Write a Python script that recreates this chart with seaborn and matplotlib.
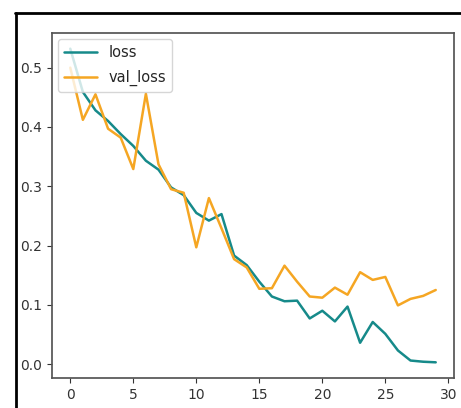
#!/usr/bin/env python3
"""Training curve: loss and val_loss per epoch."""

import matplotlib.pyplot as plt
import matplotlib.lines as mlines
import pandas as pd
import seaborn as sns

epochs = list(range(30))
loss = [0.532, 0.459, 0.428, 0.410, 0.388, 0.368, 0.343, 0.328, 0.298, 0.285,
        0.255, 0.242, 0.253, 0.183, 0.167, 0.139, 0.114, 0.106, 0.107, 0.077,
        0.090, 0.072, 0.097, 0.036, 0.071, 0.051, 0.023, 0.006, 0.004, 0.003]
val_loss = [0.500, 0.412, 0.455, 0.397, 0.382, 0.329, 0.456, 0.337, 0.295, 0.289,
            0.197, 0.280, 0.229, 0.177, 0.163, 0.127, 0.128, 0.166, 0.139, 0.114,
            0.112, 0.129, 0.117, 0.155, 0.142, 0.147, 0.099, 0.110, 0.115, 0.125]

df = pd.DataFrame({"epoch": epochs, "loss": loss, "val_loss": val_loss})
long = df.melt(id_vars="epoch", var_name="series", value_name="value")

sns.set_theme(style="ticks")
plt.rcParams["font.family"] = ["DejaVu Sans"]

fig = plt.figure(figsize=(4.61, 4.08), dpi=100)
ax = fig.add_axes([52 / 461, 1 - 378 / 408, 402 / 461, 345 / 408])

sns.lineplot(
    data=long,
    x="epoch",
    y="value",
    hue="series",
    palette={"loss": "#168a8a", "val_loss": "#f5a623"},
    linewidth=1.8,
    ax=ax,
)
ax.set_xlabel("")
ax.set_ylabel("")
ax.set_xticks([0, 5, 10, 15, 20, 25, 30])
ax.set_yticks([0.0, 0.1, 0.2, 0.3, 0.4, 0.5])
ax.tick_params(labelsize=10, colors="#333333", length=3.5, width=0.8)
for side in ax.spines.values():
    side.set_visible(True)
    side.set_color("#555555")
ax.legend(loc="upper left", fontsize=10.5, borderaxespad=0.4,
          labelspacing=0.7, handlelength=2.3)

# screenshot frame on top and left
fig.add_artist(mlines.Line2D([15 / 461, 1], [1 - 13 / 408, 1 - 13 / 408],
                             color="black", linewidth=2))
fig.add_artist(mlines.Line2D([16 / 461, 16 / 461], [0, 1 - 13 / 408],
                             color="black", linewidth=2))

fig.savefig("out.png", dpi=100)
